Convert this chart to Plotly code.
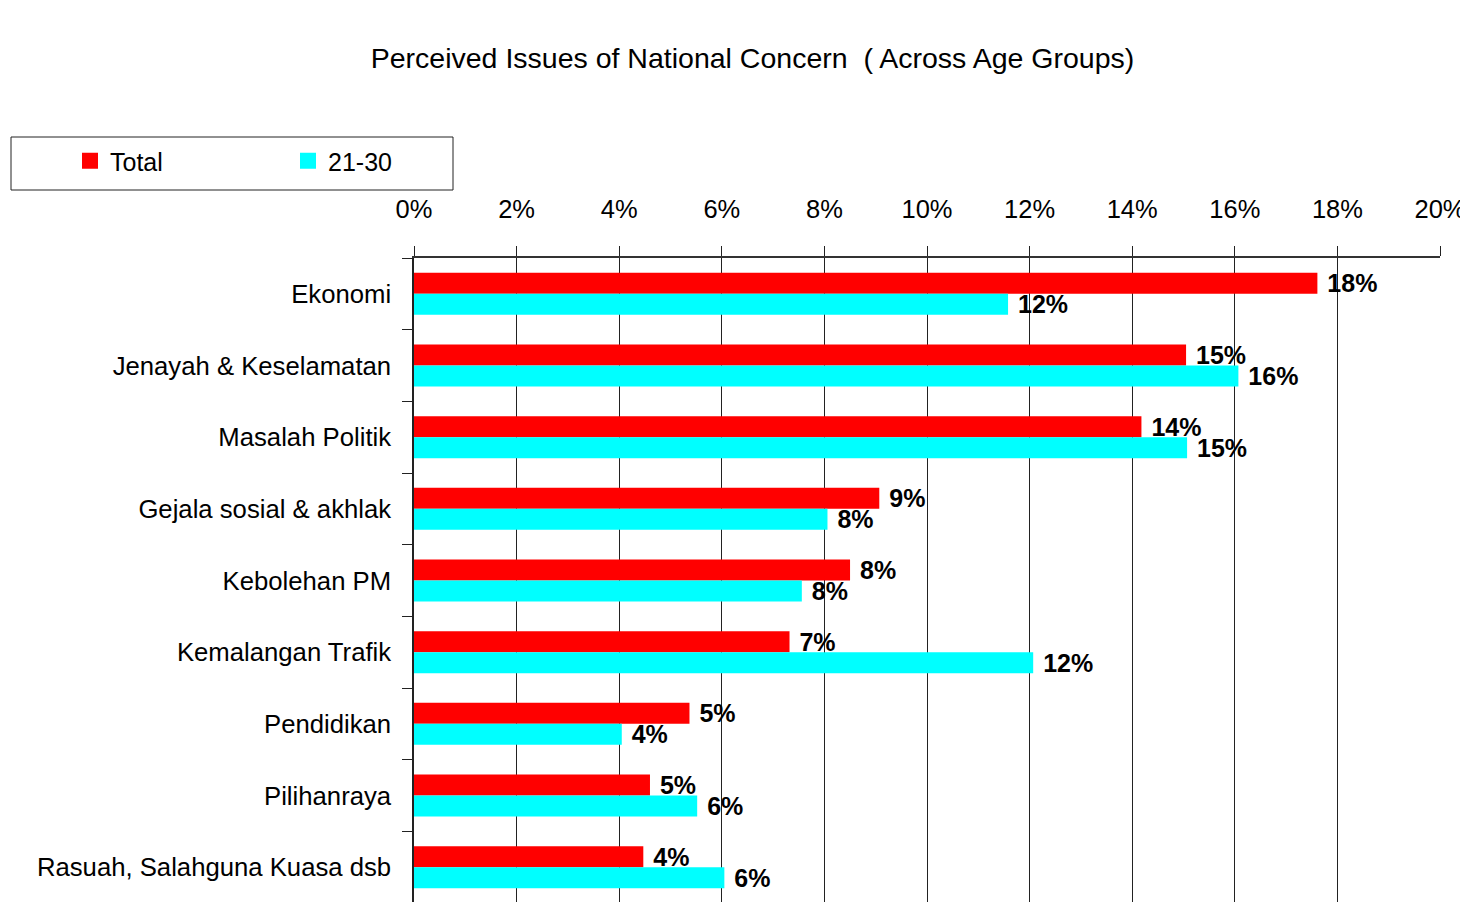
import plotly.graph_objects as go

categories = ["Ekonomi", "Jenayah & Keselamatan", "Masalah Politik", "Gejala sosial & akhlak",
              "Kebolehan PM", "Kemalangan Trafik", "Pendidikan", "Pilihanraya",
              "Rasuah, Salahguna Kuasa dsb"]
total = [17.61, 15.05, 14.18, 9.07, 8.50, 7.32, 5.37, 4.60, 4.47]
age_21_30 = [11.58, 16.07, 15.07, 8.06, 7.56, 12.07, 4.05, 5.52, 6.05]
series_names = ["Total", "21-30"]
colors = ["#FF0000", "#00FFFF"]
x_ticks = list(range(0, 21, 2))

FONT = "Liberation Sans, Arial, sans-serif"

# page body has an 8px default margin; layout positions below are in figure pixels
OFF = 8
PL, PR, PT, PB = 414 - OFF, 1440 - OFF, 258 - OFF, 903 - OFF   # plot area (figure px)
PW, PH = PR - PL, PB - PT


def px_x(sx):  # screen x -> paper x
    return (sx - OFF - PL) / PW


def px_y(sy):  # screen y -> paper y
    return (PB - (sy - OFF)) / PH


fig = go.Figure()
for name, vals, col in zip(series_names, [total, age_21_30], colors):
    fig.add_trace(go.Bar(
        y=categories, x=vals, orientation="h", name=name,
        marker=dict(color=col, line=dict(width=0)),
        text=[f"\u00a0{v:.0f}%" for v in vals], textposition="outside",
        textfont=dict(family=FONT, size=25, color="black", weight="bold"),
        constraintext="none", cliponaxis=False, showlegend=False,
    ))
# legend entries with larger square symbols
for name, col in zip(series_names, colors):
    fig.add_trace(go.Scatter(
        x=[None], y=[None], mode="markers", name=name,
        marker=dict(symbol="square", size=19, color=col),
        showlegend=True,
    ))

fig.update_layout(
    width=1468, height=902,
    margin=dict(l=PL, r=1468 - PR, t=PT, b=902 - PB, autoexpand=False),
    paper_bgcolor="white", plot_bgcolor="white",
    barmode="group", bargap=0.415, bargroupgap=0,
    font=dict(family=FONT, size=26, color="black"),
    title=dict(text="Perceived Issues of National Concern  ( Across Age Groups)",
               x=(752.5 - OFF) / 1468, xanchor="center",
               y=1 - (58 - OFF) / 902, yanchor="middle",
               font=dict(family=FONT, size=28.5, color="black")),
    legend=dict(orientation="h", x=px_x(70), xanchor="left",
                y=px_y(138), yanchor="top",
                bgcolor="rgba(0,0,0,0)", borderwidth=0,
                font=dict(family=FONT, size=25, color="black"),
                entrywidth=173, entrywidthmode="pixels", itemwidth=30),
    xaxis=dict(side="top", range=[0, 20], tickvals=x_ticks,
               ticktext=[f"{t}%" for t in x_ticks],
               showgrid=True, gridcolor="#222", gridwidth=1,
               ticks="outside", ticklen=10, tickcolor="#222", tickwidth=1,
               ticklabelstandoff=18, ticklabeloverflow="allow",
               showline=True, linecolor="#333", linewidth=1.5,
               zeroline=False, automargin=False,
               tickfont=dict(family=FONT, size=25.5)),
    yaxis=dict(autorange="reversed", tickson="boundaries",
               ticks="outside", ticklen=10, tickcolor="#222", tickwidth=1,
               ticklabelstandoff=16, automargin=False,
               showline=True, linecolor="#222", linewidth=1.5,
               showgrid=False, tickfont=dict(family=FONT, size=25.7)),
    shapes=[dict(type="rect", xref="paper", yref="paper",
                 x0=px_x(11), x1=px_x(453), y0=px_y(190), y1=px_y(137),
                 line=dict(color="#222", width=1), fillcolor="rgba(0,0,0,0)")],
)

fig.write_html("out.html")
